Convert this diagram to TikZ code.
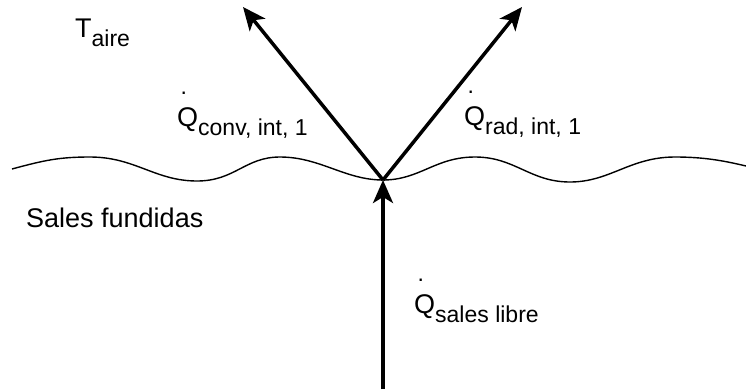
\documentclass[tikz,border=0pt]{standalone}
\usepackage{fontspec}
\setmainfont{Liberation Sans}
\usetikzlibrary{arrows.meta}

\newcommand{\lowsub}[1]{\raisebox{-9pt}{\fontsize{23}{23}\selectfont #1}}
\newcommand{\qflow}[1]{\rlap{\raisebox{32pt}{\kern3.5pt\fontsize{23}{23}\selectfont .}}Q\lowsub{#1}}

\begin{document}
\begin{tikzpicture}[
  x=1pt, y=-1pt,
  font=\fontsize{27}{32}\selectfont,
  lbl/.style={inner sep=0pt, anchor=base west},
  flow/.style={-{Stealth[length=23pt, width=20pt, inset=6pt]}, line width=3.5pt},
  surf/.style={line width=1.4pt}
]
\useasboundingbox (0,0) rectangle (746,389);
% surface of the molten salt
\draw[surf] (12,169) .. controls (45,160) and (60,157) .. (90,157)
  .. controls (135,157) and (155,181) .. (197,181)
  .. controls (235,181) and (245,157) .. (280,157)
  .. controls (320,157) and (345,180) .. (383,180)
  .. controls (420,180) and (435,157) .. (475,157)
  .. controls (515,157) and (530,182) .. (570,182)
  .. controls (610,182) and (630,157) .. (675,157)
  .. controls (705,157) and (725,161) .. (746,166);
\coordinate (jn) at (383,180);
\coordinate (cv) at (243,7);
\coordinate (rd) at (522,7);
\coordinate (bt) at (383,389);
\draw[flow] (jn) -- (cv);
\draw[flow] (jn) -- (rd);
\draw[flow] (bt) -- (jn);
\node[lbl] (taire) at (75,37) {T\lowsub{aire}};
\node[lbl] (qconv) at (177,126) {\qflow{conv, int, 1}};
\node[lbl] (qrad) at (464,125) {\qflow{rad, int, 1}};
\node[lbl] (qsal) at (414,313) {\qflow{sales libre}};
\node[lbl] (sales) at (26,227) {Sales fundidas};
\end{tikzpicture}
\end{document}
